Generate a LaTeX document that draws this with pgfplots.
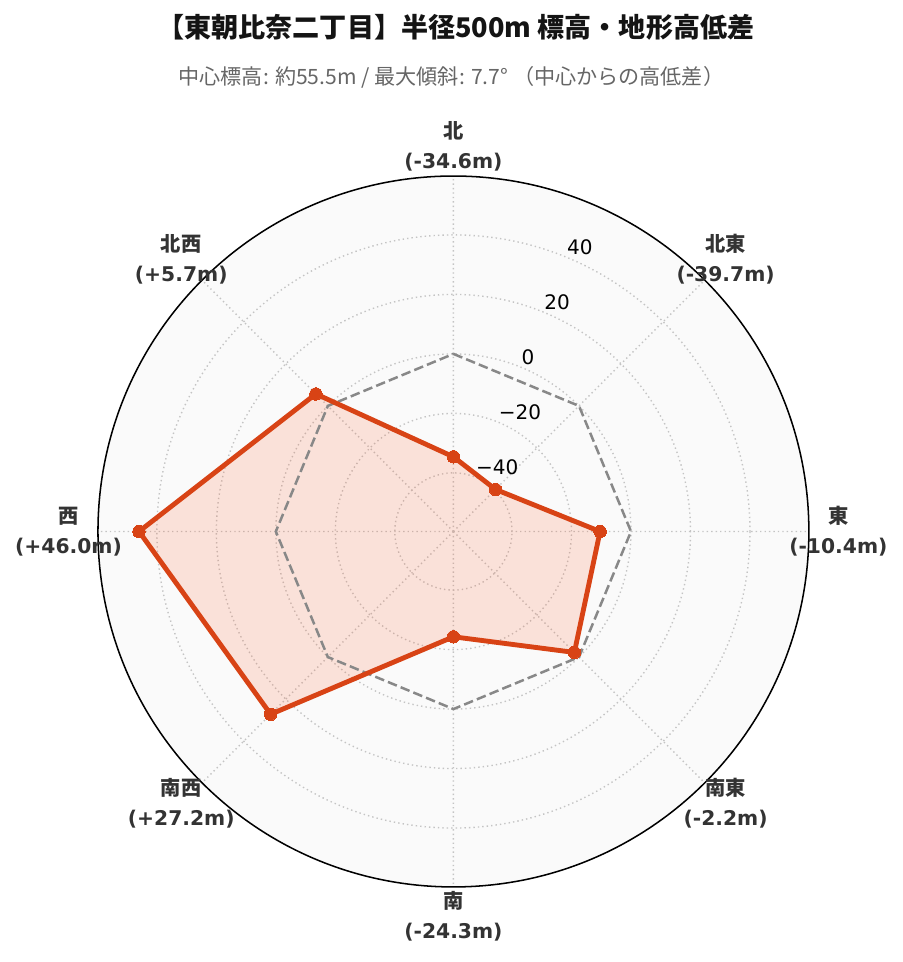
\documentclass[border=0pt]{standalone}
\usepackage{pgfplots}
\pgfplotsset{compat=1.18}
\usepackage{pgfplotstable}
\usepgfplotslibrary{polar}
\usepackage{fontspec}
\setmainfont{Noto Sans CJK JP}
\newfontfamily\dejavu{DejaVu Sans}
\definecolor{linec}{HTML}{D84315}
\definecolor{fillc}{HTML}{FF5722}
\definecolor{bgc}{HTML}{FAFAFA}
\definecolor{gridc}{HTML}{C4C4C4}
\definecolor{refc}{HTML}{888888}
\definecolor{labc}{HTML}{333333}
\definecolor{subc}{HTML}{666666}

\pgfplotstableread{
ang v
90 -34.6
45 -39.7
0 -10.4
-45 -2.2
-90 -24.3
-135 27.2
-180 46.0
-225 5.7
-270 -34.6
}\elev

\pgfplotstableread{
ang v
90 0
45 0
0 0
-45 0
-90 0
-135 0
-180 0
-225 0
-270 0
}\zero

\tikzset{tl/.style={anchor=west, inner sep=0pt, yshift=7.6pt, font=\dejavu\fontsize{14.4}{16}\selectfont},
  dl/.style={align=center, text=labc, font=\fontsize{14.6}{21.6}\selectfont\bfseries}}
\newcommand{\dv}[1]{{\dejavu\bfseries #1}}

\begin{document}
\begin{tikzpicture}
\useasboundingbox (-326.5pt,-310pt) rectangle (323.6pt,382.7pt);
\begin{polaraxis}[
 at={(0pt,0pt)}, anchor=center,
 scale only axis, width=511.9pt, height=511.9pt,
 xmin=0, xmax=360, ymin=0, ymax=119.5,
 xtick={0,45,...,315}, xticklabels={},
 ytick={19.7,39.7,59.7,79.7,99.7}, yticklabels={},
 grid=major,
 major grid style={gridc, line width=1pt, dash pattern=on 1pt off 2.2pt},
 tick style={draw=none},
 separate axis lines,
 x axis line style={black, line width=1.1pt},
 y axis line style={draw=none},
 axis background/.style={fill=bgc},
 clip=false,
]
\addplot[draw=none, fill=fillc, fill opacity=0.15] table[x=ang, y expr=\thisrow{v}+59.7]{\elev};
\addplot[draw=refc, line width=1.8pt, dash pattern=on 6.9pt off 3pt] table[x=ang, y expr=\thisrow{v}+59.7]{\zero};
\addplot[draw=linec, line width=3.5pt, line join=round, mark=*, mark size=4.5pt,
  mark options={fill=linec, draw=linec, line width=0pt}] table[x=ang, y expr=\thisrow{v}+59.7]{\elev};

\node[tl] at (axis cs:67.5,99.7) {40};
\node[tl] at (axis cs:67.5,79.7) {20};
\node[tl] at (axis cs:67.5,59.7) {0};
\node[tl] at (axis cs:67.5,39.7) {−20};
\node[tl] at (axis cs:67.5,19.7) {−40};

\node[dl] at (axis cs:90,129.4) {北\\\dv{(-34.6m)}};
\node[dl] at (axis cs:45,129.4) {北東\\\dv{(-39.7m)}};
\node[dl] at (axis cs:0,129.4) {東\\\dv{(-10.4m)}};
\node[dl] at (axis cs:-45,129.4) {南東\\\dv{(-2.2m)}};
\node[dl] at (axis cs:-90,129.4) {南\\\dv{(-24.3m)}};
\node[dl] at (axis cs:-135,129.4) {南西\\\dv{(+27.2m)}};
\node[dl] at (axis cs:180,129.4) {西\\\dv{(+46.0m)}};
\node[dl] at (axis cs:135,129.4) {北西\\\dv{(+5.7m)}};
\end{polaraxis}
\node[font=\fontsize{19.5}{23}\selectfont\bfseries, text=black!92] at (1.8pt,363.2pt) {【東朝比奈二丁目】半径500m 標高・地形高低差};
\node[font=\fontsize{15.2}{17}\selectfont, text=subc] at (-1.5pt,327.2pt) {中心標高: 約55.5m / 最大傾斜: 7.7° （中心からの高低差）};
\end{tikzpicture}
\end{document}
